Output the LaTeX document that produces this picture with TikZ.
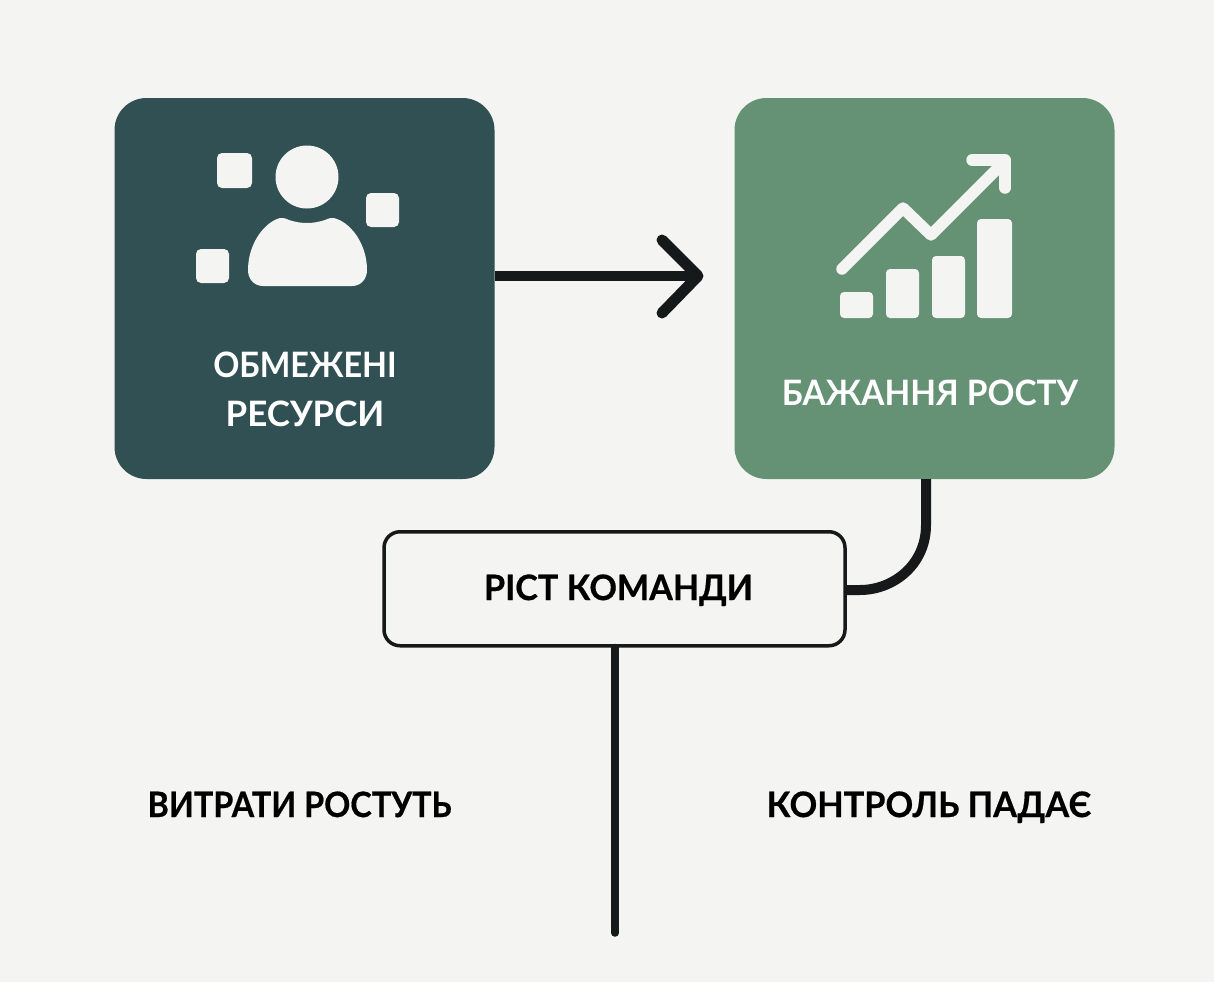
\documentclass[tikz,border=0pt]{standalone}
\usepackage{fontspec}
\setmainfont{Lato}
\usetikzlibrary{arrows.meta}
\definecolor{pagebg}{HTML}{F4F4F2}
\definecolor{deepteal}{HTML}{315053}
\definecolor{sage}{HTML}{659174}
\definecolor{inkblack}{HTML}{16191A}
\definecolor{iconwhite}{HTML}{F4F4F2}
\tikzset{
  x=1pt,y=-1pt,
  bigbox/.style={rectangle,rounded corners=32pt,minimum width=380pt,minimum height=381pt,inner sep=0pt,draw=none},
  teambox/.style={rectangle,rounded corners=16pt,minimum width=461pt,minimum height=114pt,inner sep=0pt,draw=inkblack,line width=3.5pt,fill=pagebg},
  whitelabel/.style={text=white,font=\fontsize{35}{35}\selectfont\bfseries,inner sep=0pt,anchor=base,transform shape},
  blacklabel/.style={text=black,font=\fontsize{35}{35}\selectfont\bfseries\addfontfeature{FakeBold=0.5},inner sep=0pt,anchor=base,transform shape},
  conn/.style={draw=inkblack,line cap=round,line join=round},
  iconfill/.style={fill=iconwhite,draw=none},
  iconline/.style={draw=iconwhite,line width=11.5pt,line cap=round,line join=round},
}
\begin{document}
\begin{tikzpicture}
\useasboundingbox (0,0) rectangle (1214,982);
\fill[pagebg] (0,0) rectangle (1214,982);
% connectors
\coordinate (tip) at (698,276);
\coordinate (barbtop) at (662,240);
\coordinate (barbbot) at (662,313);
\coordinate (stemend) at (615,933);
\coordinate (bend) at (926,525);
\coordinate (teamport) at (845,590);
\node[bigbox,fill=deepteal] (limits) at (304.5,288.5) {};
\node[bigbox,fill=sage] (growth) at (924.5,288.5) {};
\draw[conn,line width=10pt,line cap=butt] (limits.east |- tip) -- (tip);
\draw[conn,line width=11pt] (barbtop) -- (tip) -- (barbbot);
\draw[conn,line width=10pt,line cap=butt] (growth.south -| bend) -- (bend) .. controls (926,565) and (893,590) .. (860,590) -- (teamport);
\node[teambox] (team) at (614.5,588.75) {};
\draw[conn,line width=7.5pt] (team.south -| stemend) -- (stemend);
% person icon
\fill[iconfill] (307,177) circle[radius=31.5];
\fill[iconfill] (263,286) .. controls (254,286) and (248,279) .. (248,270)
  .. controls (248,246) and (262,225) .. (277,219)
  .. controls (281,217) and (285,218) .. (289,220)
  .. controls (295,222) and (301,223) .. (307,223)
  .. controls (313,223) and (319,222) .. (325,220)
  .. controls (329,218) and (333,217) .. (337,219)
  .. controls (353,225) and (367,246) .. (367,270)
  .. controls (367,279) and (361,286) .. (352,286) -- cycle;
\fill[iconfill,rounded corners=5pt] (217,153) rectangle (252,188);
\fill[iconfill,rounded corners=5pt] (366,193) rectangle (399,227);
\fill[iconfill,rounded corners=5pt] (196,249) rectangle (229,283);
% chart icon
\fill[iconfill,rounded corners=4pt] (840,292) rectangle (873,318);
\fill[iconfill,rounded corners=4pt] (886,269) rectangle (919,318);
\fill[iconfill,rounded corners=4pt] (932,256) rectangle (965,318);
\fill[iconfill,rounded corners=4pt] (977,219) rectangle (1012,318);
\draw[iconline] (842,269) -- (903,208) -- (931,235) -- (1005,161);
\draw[iconline] (972,160) -- (1005,160) -- (1005,188);
% labels
\node[whitelabel,xscale=.925] (lima) at (305,377) {ОБМЕЖЕНІ};
\node[whitelabel] (limb) at (305,426) {РЕСУРСИ};
\node[whitelabel,xscale=.955] (growthtext) at (930,405) {БАЖАННЯ РОСТУ};
\node[blacklabel,xscale=.975] (teamtext) at (618.5,600) {РІСТ КОМАНДИ};
\node[blacklabel,xscale=.925] (costs) at (299.5,817) {ВИТРАТИ РОСТУТЬ};
\node[blacklabel,xscale=.98] (control) at (929,817) {КОНТРОЛЬ ПАДАЄ};
\end{tikzpicture}
\end{document}
